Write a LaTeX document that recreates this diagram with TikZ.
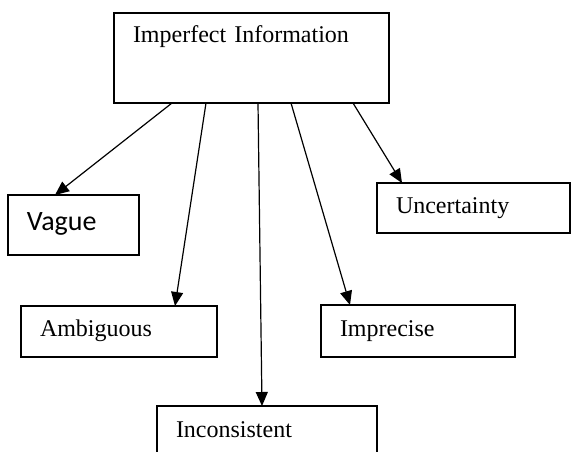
\documentclass[tikz,border=0pt]{standalone}
\usepackage{fontspec}
\setmainfont{Liberation Serif}
\newfontfamily\calibrifont{Carlito}
\usetikzlibrary{arrows.meta, positioning}

\begin{document}
\begin{tikzpicture}[x=1pt, y=1pt,
  catbox/.style={draw, line width=1.6pt, anchor=north west, outer sep=0pt, align=left, inner xsep=19pt, inner ysep=0pt, text height=17pt, text depth=7pt, font=\fontsize{24}{28}\selectfont},
  arr/.style={-{Triangle[length=14pt, width=12pt]}, line width=1.2pt}
]
  \clip (0,0) rectangle (571,-451);

  % The root box
  \node[catbox, text width=237pt, inner ysep=12pt, text depth=49pt] (info) at (114,-13) {Imperfect Information};

  % Kinds of imperfect information
  \node[catbox, text width=93pt, minimum height=60pt, text height=18pt, font=\calibrifont\fontsize{28}{32}\selectfont] (vague) at (8,-195) {Vague};
  \node[catbox, text width=158pt, minimum height=51pt] (ambig) at (21,-306) {Ambiguous};
  \node[catbox, text width=182pt, minimum height=52pt] (incons) at (157,-406) {Inconsistent};
  \node[catbox, text width=156pt, minimum height=52pt] (imprec) at (321,-305) {Imprecise};
  \node[catbox, text width=155pt, minimum height=50pt] (uncert) at (377,-183) {Uncertainty};

  \draw[arr] ([xshift=58]info.south west) -- ([xshift=47]vague.north west);
  \draw[arr] ([xshift=92]info.south west) -- ([xshift=154]ambig.north west);
  \draw[arr] ([xshift=144]info.south west) -- ([xshift=105]incons.north west);
  \draw[arr] ([xshift=177]info.south west) -- ([xshift=29]imprec.north west);
  \draw[arr] ([xshift=239]info.south west) -- ([xshift=25]uncert.north west);
\end{tikzpicture}
\end{document}
